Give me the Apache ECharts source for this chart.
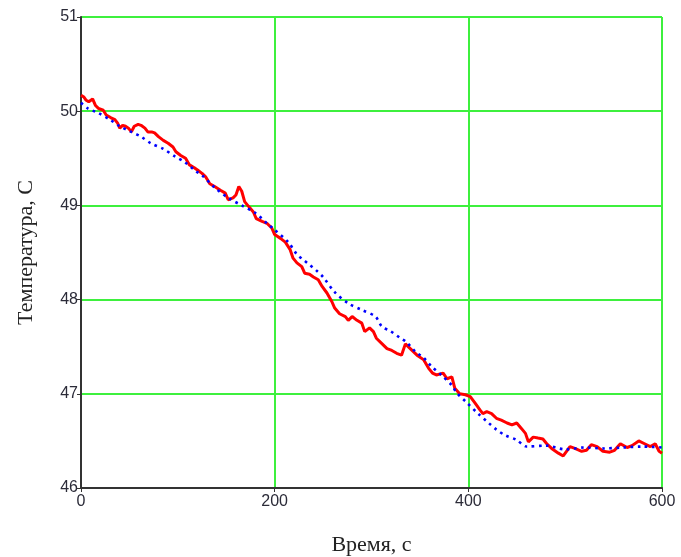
<!DOCTYPE html>
<html>
<head>
<meta charset="utf-8">
<script src="https://cdn.jsdelivr.net/npm/echarts@6/dist/echarts.min.js"></script>
<style>
	html, body { margin: 0; padding: 0; background: #fff; }
	#chart { width: 681px; height: 557px; }
</style>
</head>
<body>
<div id="chart"></div>
<script>
const measTime = [0, 3, 5, 8, 12, 15, 18, 23, 26, 31, 35, 38, 40, 43, 46, 49, 52, 55, 59, 62,
	66, 69, 73, 76, 80, 85, 90, 95, 98, 103, 108, 112, 117, 121, 125, 129, 133, 138, 144, 149,
	152, 157, 160, 163, 166, 169, 173, 178, 181, 187, 192, 197, 200, 206, 211, 216, 219, 223, 228, 231,
	236, 240, 245, 249, 254, 259, 262, 267, 273, 276, 280, 285, 290, 293, 298, 302, 305, 311, 316, 321,
	326, 331, 335, 340, 347, 354, 359, 363, 367, 374, 378, 383, 386, 391, 397, 402, 407, 412, 415, 419,
	424, 429, 434, 440, 445, 450, 455, 459, 462, 467, 472, 477, 481, 486, 493, 498, 505, 510, 517, 522,
	527, 533, 539, 546, 551, 557, 564, 569, 576, 582, 588, 593, 597, 600];
const measTemp = [50.17, 50.15, 50.12, 50.10, 50.13, 50.06, 50.03, 50.01, 49.96, 49.93, 49.91, 49.87, 49.82, 49.85, 49.84, 49.82, 49.78, 49.84, 49.86, 49.85,
	49.82, 49.78, 49.78, 49.77, 49.73, 49.69, 49.66, 49.62, 49.57, 49.53, 49.50, 49.43, 49.40, 49.37, 49.34, 49.30, 49.23, 49.20, 49.16, 49.13,
	49.06, 49.08, 49.11, 49.20, 49.15, 49.04, 48.99, 48.93, 48.86, 48.83, 48.81, 48.76, 48.69, 48.65, 48.61, 48.53, 48.44, 48.39, 48.35, 48.28,
	48.27, 48.24, 48.21, 48.14, 48.07, 47.98, 47.91, 47.85, 47.82, 47.78, 47.82, 47.78, 47.75, 47.66, 47.70, 47.66, 47.59, 47.53, 47.48, 47.46,
	47.43, 47.41, 47.53, 47.48, 47.41, 47.36, 47.27, 47.22, 47.20, 47.22, 47.16, 47.18, 47.06, 47.00, 46.99, 46.97, 46.90, 46.83, 46.79, 46.81,
	46.79, 46.74, 46.72, 46.69, 46.67, 46.69, 46.63, 46.58, 46.49, 46.54, 46.53, 46.52, 46.47, 46.42, 46.37, 46.34, 46.44, 46.42, 46.39, 46.40,
	46.46, 46.44, 46.39, 46.38, 46.40, 46.47, 46.43, 46.45, 46.50, 46.47, 46.44, 46.47, 46.39, 46.37];

// fitted curve (blue dotted)
const fitTime = [0, 7, 18, 30, 40, 52, 62, 72, 85, 97, 107, 119, 125, 138, 152, 166, 180, 192, 200, 214,
	223, 230, 236, 243, 250, 262, 276, 290, 304, 311, 319, 330, 336, 345, 354, 362, 372, 383, 388, 398,
	410, 421, 429, 438, 450, 460, 480, 500, 520, 540, 560, 580, 600];
const fitTemp = [50.09, 50.03, 49.98, 49.91, 49.84, 49.78, 49.73, 49.66, 49.60, 49.52, 49.46, 49.36, 49.32, 49.19, 49.08, 49.00, 48.92, 48.81, 48.74, 48.61,
	48.48, 48.42, 48.37, 48.31, 48.24, 48.08, 47.96, 47.89, 47.82, 47.71, 47.67, 47.59, 47.55, 47.45, 47.38, 47.29, 47.20, 47.09, 47.01, 46.91,
	46.79, 46.69, 46.62, 46.56, 46.51, 46.44, 46.45, 46.41, 46.43, 46.42, 46.43, 46.44, 46.43];

const xTicks = [0, 200, 400, 600];
const yTicks = [46, 47, 48, 49, 50, 51];

const zip = (xs, ys) => xs.map((x, i) => [x, ys[i]]);

const chart = echarts.init(document.getElementById("chart"), null, { renderer: "canvas" });

const labelStyle = {
	fontFamily: "Liberation Sans",
	fontSize: 16,
	color: "#2b2b38"
};
const nameStyle = { fontFamily: "Liberation Serif", fontSize: 22, color: "#222" };
const gridLine = { show: true, lineStyle: { color: "#3ef03e", width: 2 } };
const axisLine = { show: true, lineStyle: { color: "#333", width: 2 } };

chart.setOption({
	animation: false,
	grid: { left: 81, right: 19, top: 17, bottom: 69, outerBoundsMode: "none", containLabel: false },
	xAxis: {
		type: "value",
		min: xTicks[0],
		max: xTicks[xTicks.length - 1],
		interval: 200,
		name: "Время, с",
		nameLocation: "middle",
		nameGap: 46,
		nameTextStyle: nameStyle,
		axisLine,
		axisTick: { show: true, length: 4, lineStyle: { color: "#333", width: 1 } },
		axisLabel: Object.assign({ margin: 6 }, labelStyle),
		splitLine: gridLine
	},
	yAxis: {
		type: "value",
		min: yTicks[0],
		max: yTicks[yTicks.length - 1],
		interval: 1,
		name: "Температура, С",
		nameLocation: "middle",
		nameGap: 44,
		nameTextStyle: nameStyle,
		axisLine,
		axisTick: { show: true, length: 4, lineStyle: { color: "#333", width: 1 } },
		axisLabel: Object.assign({ margin: 3 }, labelStyle),
		splitLine: gridLine
	},
	series: [
		{
			type: "line",
			data: zip(fitTime, fitTemp),
			showSymbol: false,
			smooth: 0.3,
			lineStyle: { color: "#0000ff", width: 2.6, type: [2.6, 4.5] },
			z: 3
		},
		{
			type: "line",
			data: zip(measTime, measTemp),
			showSymbol: false,
			lineStyle: { color: "#ff0000", width: 3 },
			z: 2
		}
	]
});
</script>
</body>
</html>
